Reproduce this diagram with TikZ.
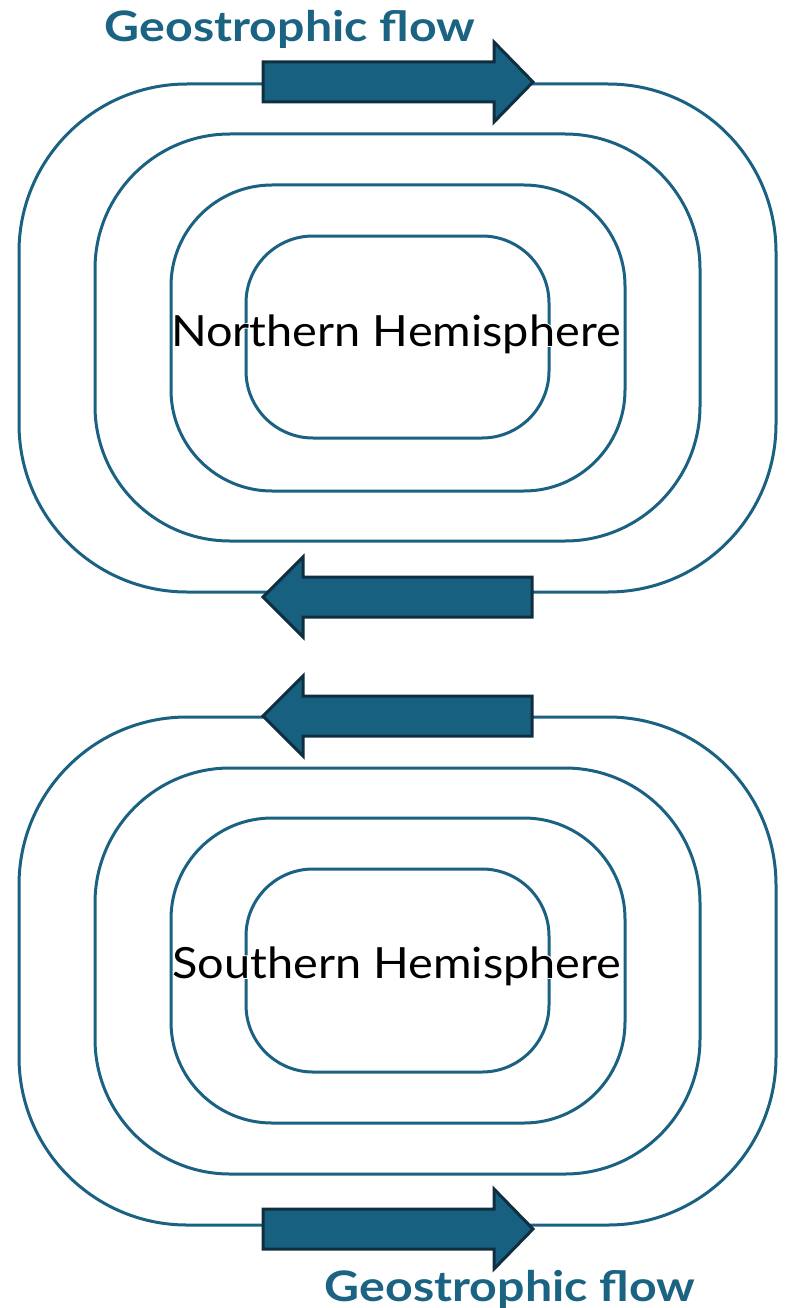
\documentclass[tikz,border=0pt]{standalone}
\usepackage{fontspec}
\setmainfont{Lato}
\newfontfamily\hemifont[FakeStretch=1.09]{Lato}
\newfontfamily\hemiglow[FakeStretch=1.09,FakeBold=4]{Lato}
\newfontfamily\titlefont[FakeStretch=1.15]{Lato Bold}
\definecolor{ringblue}{RGB}{26,97,130}
\definecolor{arrowfill}{RGB}{24,96,128}
\definecolor{arrowedge}{RGB}{15,46,64}
\definecolor{titleblue}{RGB}{27,99,131}
% label with a thin white halo that clears the isobars behind the letters
\newcommand{\haloed}[1]{\rlap{\hemiglow\color{white}#1}{\hemifont #1}}
\begin{document}
\begin{tikzpicture}[x=1pt,y=-1pt,
  ring/.style={draw=ringblue,line width=3pt},
  flowarrow/.style={fill=arrowfill,draw=arrowedge,line width=3pt,line join=miter},
  flowlabel/.style={font=\fontsize{42}{48}\titlefont,text=titleblue,anchor=base,inner sep=0pt},
  hemilabel/.style={font=\fontsize{43}{50}\selectfont,text=black,anchor=base,inner sep=0pt}]
\useasboundingbox (0,0) rectangle (786,1308);

% northern cell: four nested isobars
\draw[ring,rounded corners=168] (19,84) rectangle (776,592);
\draw[ring,rounded corners=135] (95,134) rectangle (700,541);
\draw[ring,rounded corners=101] (171,185) rectangle (625,491);
\draw[ring,rounded corners=67] (246,236) rectangle (549,438);

% southern cell
\draw[ring,rounded corners=168] (19,717) rectangle (776,1225);
\draw[ring,rounded corners=135] (95,768) rectangle (700,1174);
\draw[ring,rounded corners=101] (171,818) rectangle (625,1123);
\draw[ring,rounded corners=67] (246,869) rectangle (549,1072);

% flow arrows
\draw[flowarrow] (263,62) -- (494,62) -- (494,42) -- (533,82) -- (494,122) -- (494,102) -- (263,102) -- cycle;
\draw[flowarrow] (532,577) -- (303,577) -- (303,557) -- (263,597) -- (303,637) -- (303,617) -- (532,617) -- cycle;
\draw[flowarrow] (532,696) -- (303,696) -- (303,676) -- (263,716) -- (303,756) -- (303,736) -- (532,736) -- cycle;
\draw[flowarrow] (263,1209) -- (494,1209) -- (494,1189) -- (533,1229) -- (494,1269) -- (494,1249) -- (263,1249) -- cycle;

% labels
\node[flowlabel] (ntitle) at (290,42) {Geostrophic flow};
\node[flowlabel] (stitle) at (510,1301) {Geostrophic flow};
\node[hemilabel] (nh) at (396,346) {\haloed{Northern Hemisphere}};
\node[hemilabel] (sh) at (397,978) {\haloed{Southern Hemisphere}};
\end{tikzpicture}
\end{document}
